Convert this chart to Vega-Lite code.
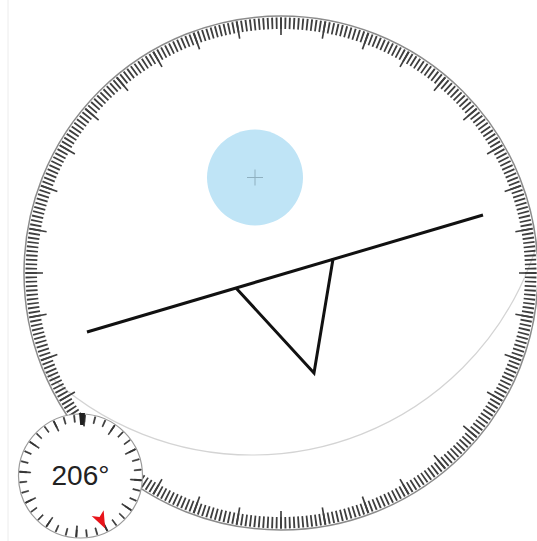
{
  "$schema": "https://vega.github.io/schema/vega-lite/v6.json",
  "width": 537,
  "height": 541,
  "autosize": "none",
  "padding": 0,
  "background": "white",
  "config": {"view": {"stroke": null}, "axis": {"disable": true}, "legend": {"disable": true}},
  "datasets": {
    "ring": [
{"deg":0,"k":30},{"deg":1,"k":1},{"deg":2,"k":1},{"deg":3,"k":1},{"deg":4,"k":1},{"deg":5,"k":1},{"deg":6,"k":1},{"deg":7,"k":1},{"deg":8,"k":1},{"deg":9,"k":1},
{"deg":10,"k":10},{"deg":11,"k":1},{"deg":12,"k":1},{"deg":13,"k":1},{"deg":14,"k":1},{"deg":15,"k":1},{"deg":16,"k":1},{"deg":17,"k":1},{"deg":18,"k":1},{"deg":19,"k":1},
{"deg":20,"k":10},{"deg":21,"k":1},{"deg":22,"k":1},{"deg":23,"k":1},{"deg":24,"k":1},{"deg":25,"k":1},{"deg":26,"k":1},{"deg":27,"k":1},{"deg":28,"k":1},{"deg":29,"k":1},
{"deg":30,"k":30},{"deg":31,"k":1},{"deg":32,"k":1},{"deg":33,"k":1},{"deg":34,"k":1},{"deg":35,"k":1},{"deg":36,"k":1},{"deg":37,"k":1},{"deg":38,"k":1},{"deg":39,"k":1},
{"deg":40,"k":10},{"deg":41,"k":1},{"deg":42,"k":1},{"deg":43,"k":1},{"deg":44,"k":1},{"deg":45,"k":1},{"deg":46,"k":1},{"deg":47,"k":1},{"deg":48,"k":1},{"deg":49,"k":1},
{"deg":50,"k":10},{"deg":51,"k":1},{"deg":52,"k":1},{"deg":53,"k":1},{"deg":54,"k":1},{"deg":55,"k":1},{"deg":56,"k":1},{"deg":57,"k":1},{"deg":58,"k":1},{"deg":59,"k":1},
{"deg":60,"k":30},{"deg":61,"k":1},{"deg":62,"k":1},{"deg":63,"k":1},{"deg":64,"k":1},{"deg":65,"k":1},{"deg":66,"k":1},{"deg":67,"k":1},{"deg":68,"k":1},{"deg":69,"k":1},
{"deg":70,"k":10},{"deg":71,"k":1},{"deg":72,"k":1},{"deg":73,"k":1},{"deg":74,"k":1},{"deg":75,"k":1},{"deg":76,"k":1},{"deg":77,"k":1},{"deg":78,"k":1},{"deg":79,"k":1},
{"deg":80,"k":10},{"deg":81,"k":1},{"deg":82,"k":1},{"deg":83,"k":1},{"deg":84,"k":1},{"deg":85,"k":1},{"deg":86,"k":1},{"deg":87,"k":1},{"deg":88,"k":1},{"deg":89,"k":1},
{"deg":90,"k":30},{"deg":91,"k":1},{"deg":92,"k":1},{"deg":93,"k":1},{"deg":94,"k":1},{"deg":95,"k":1},{"deg":96,"k":1},{"deg":97,"k":1},{"deg":98,"k":1},{"deg":99,"k":1},
{"deg":100,"k":10},{"deg":101,"k":1},{"deg":102,"k":1},{"deg":103,"k":1},{"deg":104,"k":1},{"deg":105,"k":1},{"deg":106,"k":1},{"deg":107,"k":1},{"deg":108,"k":1},{"deg":109,"k":1},
{"deg":110,"k":10},{"deg":111,"k":1},{"deg":112,"k":1},{"deg":113,"k":1},{"deg":114,"k":1},{"deg":115,"k":1},{"deg":116,"k":1},{"deg":117,"k":1},{"deg":118,"k":1},{"deg":119,"k":1},
{"deg":120,"k":30},{"deg":121,"k":1},{"deg":122,"k":1},{"deg":123,"k":1},{"deg":124,"k":1},{"deg":125,"k":1},{"deg":126,"k":1},{"deg":127,"k":1},{"deg":128,"k":1},{"deg":129,"k":1},
{"deg":130,"k":10},{"deg":131,"k":1},{"deg":132,"k":1},{"deg":133,"k":1},{"deg":134,"k":1},{"deg":135,"k":1},{"deg":136,"k":1},{"deg":137,"k":1},{"deg":138,"k":1},{"deg":139,"k":1},
{"deg":140,"k":10},{"deg":141,"k":1},{"deg":142,"k":1},{"deg":143,"k":1},{"deg":144,"k":1},{"deg":145,"k":1},{"deg":146,"k":1},{"deg":147,"k":1},{"deg":148,"k":1},{"deg":149,"k":1},
{"deg":150,"k":30},{"deg":151,"k":1},{"deg":152,"k":1},{"deg":153,"k":1},{"deg":154,"k":1},{"deg":155,"k":1},{"deg":156,"k":1},{"deg":157,"k":1},{"deg":158,"k":1},{"deg":159,"k":1},
{"deg":160,"k":10},{"deg":161,"k":1},{"deg":162,"k":1},{"deg":163,"k":1},{"deg":164,"k":1},{"deg":165,"k":1},{"deg":166,"k":1},{"deg":167,"k":1},{"deg":168,"k":1},{"deg":169,"k":1},
{"deg":170,"k":10},{"deg":171,"k":1},{"deg":172,"k":1},{"deg":173,"k":1},{"deg":174,"k":1},{"deg":175,"k":1},{"deg":176,"k":1},{"deg":177,"k":1},{"deg":178,"k":1},{"deg":179,"k":1},
{"deg":180,"k":30},{"deg":181,"k":1},{"deg":182,"k":1},{"deg":183,"k":1},{"deg":184,"k":1},{"deg":185,"k":1},{"deg":186,"k":1},{"deg":187,"k":1},{"deg":188,"k":1},{"deg":189,"k":1},
{"deg":190,"k":10},{"deg":191,"k":1},{"deg":192,"k":1},{"deg":193,"k":1},{"deg":194,"k":1},{"deg":195,"k":1},{"deg":196,"k":1},{"deg":197,"k":1},{"deg":198,"k":1},{"deg":199,"k":1},
{"deg":200,"k":10},{"deg":201,"k":1},{"deg":202,"k":1},{"deg":203,"k":1},{"deg":204,"k":1},{"deg":205,"k":1},{"deg":206,"k":1},{"deg":207,"k":1},{"deg":208,"k":1},{"deg":209,"k":1},
{"deg":210,"k":30},{"deg":211,"k":1},{"deg":212,"k":1},{"deg":213,"k":1},{"deg":214,"k":1},{"deg":215,"k":1},{"deg":216,"k":1},{"deg":217,"k":1},{"deg":218,"k":1},{"deg":219,"k":1},
{"deg":220,"k":10},{"deg":221,"k":1},{"deg":222,"k":1},{"deg":223,"k":1},{"deg":224,"k":1},{"deg":225,"k":1},{"deg":226,"k":1},{"deg":227,"k":1},{"deg":228,"k":1},{"deg":229,"k":1},
{"deg":230,"k":10},{"deg":231,"k":1},{"deg":232,"k":1},{"deg":233,"k":1},{"deg":234,"k":1},{"deg":235,"k":1},{"deg":236,"k":1},{"deg":237,"k":1},{"deg":238,"k":1},{"deg":239,"k":1},
{"deg":240,"k":30},{"deg":241,"k":1},{"deg":242,"k":1},{"deg":243,"k":1},{"deg":244,"k":1},{"deg":245,"k":1},{"deg":246,"k":1},{"deg":247,"k":1},{"deg":248,"k":1},{"deg":249,"k":1},
{"deg":250,"k":10},{"deg":251,"k":1},{"deg":252,"k":1},{"deg":253,"k":1},{"deg":254,"k":1},{"deg":255,"k":1},{"deg":256,"k":1},{"deg":257,"k":1},{"deg":258,"k":1},{"deg":259,"k":1},
{"deg":260,"k":10},{"deg":261,"k":1},{"deg":262,"k":1},{"deg":263,"k":1},{"deg":264,"k":1},{"deg":265,"k":1},{"deg":266,"k":1},{"deg":267,"k":1},{"deg":268,"k":1},{"deg":269,"k":1},
{"deg":270,"k":30},{"deg":271,"k":1},{"deg":272,"k":1},{"deg":273,"k":1},{"deg":274,"k":1},{"deg":275,"k":1},{"deg":276,"k":1},{"deg":277,"k":1},{"deg":278,"k":1},{"deg":279,"k":1},
{"deg":280,"k":10},{"deg":281,"k":1},{"deg":282,"k":1},{"deg":283,"k":1},{"deg":284,"k":1},{"deg":285,"k":1},{"deg":286,"k":1},{"deg":287,"k":1},{"deg":288,"k":1},{"deg":289,"k":1},
{"deg":290,"k":10},{"deg":291,"k":1},{"deg":292,"k":1},{"deg":293,"k":1},{"deg":294,"k":1},{"deg":295,"k":1},{"deg":296,"k":1},{"deg":297,"k":1},{"deg":298,"k":1},{"deg":299,"k":1},
{"deg":300,"k":30},{"deg":301,"k":1},{"deg":302,"k":1},{"deg":303,"k":1},{"deg":304,"k":1},{"deg":305,"k":1},{"deg":306,"k":1},{"deg":307,"k":1},{"deg":308,"k":1},{"deg":309,"k":1},
{"deg":310,"k":10},{"deg":311,"k":1},{"deg":312,"k":1},{"deg":313,"k":1},{"deg":314,"k":1},{"deg":315,"k":1},{"deg":316,"k":1},{"deg":317,"k":1},{"deg":318,"k":1},{"deg":319,"k":1},
{"deg":320,"k":10},{"deg":321,"k":1},{"deg":322,"k":1},{"deg":323,"k":1},{"deg":324,"k":1},{"deg":325,"k":1},{"deg":326,"k":1},{"deg":327,"k":1},{"deg":328,"k":1},{"deg":329,"k":1},
{"deg":330,"k":30},{"deg":331,"k":1},{"deg":332,"k":1},{"deg":333,"k":1},{"deg":334,"k":1},{"deg":335,"k":1},{"deg":336,"k":1},{"deg":337,"k":1},{"deg":338,"k":1},{"deg":339,"k":1},
{"deg":340,"k":10},{"deg":341,"k":1},{"deg":342,"k":1},{"deg":343,"k":1},{"deg":344,"k":1},{"deg":345,"k":1},{"deg":346,"k":1},{"deg":347,"k":1},{"deg":348,"k":1},{"deg":349,"k":1},
{"deg":350,"k":10},{"deg":351,"k":1},{"deg":352,"k":1},{"deg":353,"k":1},{"deg":354,"k":1},{"deg":355,"k":1},{"deg":356,"k":1},{"deg":357,"k":1},{"deg":358,"k":1},{"deg":359,"k":1}
    ],
    "level": [
      {"part": "bar", "i": 0, "x": -194, "y": -59},
      {"part": "bar", "i": 1, "x": 202, "y": 58},
      {"part": "tri", "i": 0, "x": -45, "y": -15},
      {"part": "tri", "i": 1, "x": 33, "y": -100},
      {"part": "tri", "i": 2, "x": 52, "y": 14}
    ],
    "bubble": [{"x": -26, "y": 95.5}],
    "tilt": [{"x": -29, "y": 116}],
    "origin": [{"x": 0, "y": 0}],
    "dial": [{"x": -200.5, "y": -203, "label": "206°"}],
    "heading": [{"x": -199, "y": -146}],
    "north": [{"x": -180, "y": -247}]
  },
  "resolve": {"scale": {"theta": "independent"}},
  "layer": [
    {
      "data": {"name": "tilt"},
      "mark": {"type": "point", "shape": "circle", "filled": false, "size": 355216, "stroke": "#d4d4d4", "strokeWidth": 1.2, "opacity": 1},
      "encoding": {
        "x": {"field": "x", "type": "quantitative", "scale": {"domain": [-281, 256], "nice": false, "zero": false}},
        "y": {"field": "y", "type": "quantitative", "scale": {"domain": [-268, 273], "nice": false, "zero": false}}
      }
    },
    {
      "data": {"name": "origin"},
      "mark": {"type": "arc", "theta": 0, "theta2": 6.2832, "radius": 420, "radius2": 256, "fill": "white"},
      "encoding": {
        "x": {"field": "x", "type": "quantitative"},
        "y": {"field": "y", "type": "quantitative"}
      }
    },
    {
      "data": {"name": "origin"},
      "mark": {"type": "point", "shape": "circle", "filled": false, "size": 264196, "stroke": "#8c8c8c", "strokeWidth": 1.5, "opacity": 1},
      "encoding": {
        "x": {"field": "x", "type": "quantitative"},
        "y": {"field": "y", "type": "quantitative"}
      }
    },
    {
      "data": {"name": "ring"},
      "mark": {"type": "arc", "radius": 255.5, "radius2": 244, "padAngle": 0.0072, "fill": "#3e3e3e"},
      "encoding": {
        "x": {"datum": 0, "type": "quantitative"},
        "y": {"datum": 0, "type": "quantitative"},
        "theta": {"aggregate": "count", "type": "quantitative", "stack": true, "scale": {"domain": [0, 360], "range": [-0.008727, 6.274458]}},
        "order": {"field": "deg", "type": "quantitative"},
        "detail": [{"field": "deg", "type": "quantitative"}, {"field": "k", "type": "quantitative"}]
      }
    },
    {
      "data": {"name": "ring"},
      "mark": {"type": "arc", "radius": 255.5, "radius2": 238, "padAngle": 0.0073, "fill": "#3e3e3e"},
      "encoding": {
        "x": {"datum": 0, "type": "quantitative"},
        "y": {"datum": 0, "type": "quantitative"},
        "theta": {"aggregate": "count", "type": "quantitative", "stack": true, "scale": {"domain": [0, 360], "range": [-0.008727, 6.274458]}},
        "order": {"field": "deg", "type": "quantitative"},
        "detail": [{"field": "deg", "type": "quantitative"}, {"field": "k", "type": "quantitative"}],
        "fillOpacity": {"condition": {"test": "datum.k >= 10", "value": 1}, "value": 0}
      }
    },
    {
      "data": {"name": "bubble"},
      "mark": {"type": "point", "shape": "circle", "filled": true, "size": 9216, "color": "#bfe4f6", "opacity": 1},
      "encoding": {
        "x": {"field": "x", "type": "quantitative"},
        "y": {"field": "y", "type": "quantitative"}
      }
    },
    {
      "data": {"name": "bubble"},
      "mark": {"type": "point", "shape": "M-1,0L1,0M0,-1L0,1", "filled": false, "size": 256, "stroke": "#8fb0c0", "strokeWidth": 1, "opacity": 1},
      "encoding": {
        "x": {"field": "x", "type": "quantitative"},
        "y": {"field": "y", "type": "quantitative"}
      }
    },
    {
      "data": {"name": "level"},
      "mark": {"type": "line", "color": "#111111", "strokeWidth": 3},
      "encoding": {
        "x": {"field": "x", "type": "quantitative"},
        "y": {"field": "y", "type": "quantitative"},
        "detail": {"field": "part", "type": "nominal"},
        "order": {"field": "i", "type": "quantitative"}
      }
    },
    {
      "data": {"name": "dial"},
      "mark": {"type": "point", "shape": "circle", "filled": true, "size": 15376, "fill": "white", "stroke": "#9a9a9a", "strokeWidth": 1.2, "opacity": 1},
      "encoding": {
        "x": {"field": "x", "type": "quantitative"},
        "y": {"field": "y", "type": "quantitative"}
      }
    },
    {
      "data": {"name": "ring"},
      "mark": {"type": "arc", "radius": 61, "radius2": 54, "fill": "#333333", "stroke": "#333333", "strokeWidth": 0.7},
      "encoding": {
        "x": {"datum": -200.5, "type": "quantitative"},
        "y": {"datum": -203, "type": "quantitative"},
        "theta": {"aggregate": "count", "type": "quantitative", "stack": true, "scale": {"domain": [0, 360], "range": [2.6791, 8.9623]}},
        "order": {"field": "deg", "type": "quantitative"},
        "detail": [{"field": "deg", "type": "quantitative"}, {"field": "k", "type": "quantitative"}],
        "fillOpacity": {"condition": {"test": "datum.k >= 10", "value": 1}, "value": 0},
        "strokeOpacity": {"condition": {"test": "datum.k >= 10", "value": 1}, "value": 0}
      }
    },
    {
      "data": {"name": "ring"},
      "mark": {"type": "arc", "radius": 61, "radius2": 50, "fill": "#333333", "stroke": "#333333", "strokeWidth": 0.7},
      "encoding": {
        "x": {"datum": -200.5, "type": "quantitative"},
        "y": {"datum": -203, "type": "quantitative"},
        "theta": {"aggregate": "count", "type": "quantitative", "stack": true, "scale": {"domain": [0, 360], "range": [2.6791, 8.9623]}},
        "order": {"field": "deg", "type": "quantitative"},
        "detail": [{"field": "deg", "type": "quantitative"}, {"field": "k", "type": "quantitative"}],
        "fillOpacity": {"condition": {"test": "datum.k >= 30", "value": 1}, "value": 0},
        "strokeOpacity": {"condition": {"test": "datum.k >= 30", "value": 1}, "value": 0}
      }
    },
    {
      "data": {"name": "heading"},
      "mark": {"type": "point", "shape": "M-0.5,-1L0.5,-1L0.3,1L-0.3,1Z", "filled": true, "size": 144, "color": "#222222", "opacity": 1},
      "encoding": {
        "x": {"field": "x", "type": "quantitative"},
        "y": {"field": "y", "type": "quantitative"}
      }
    },
    {
      "data": {"name": "north"},
      "mark": {"type": "point", "shape": "M0,1L-0.7,-0.8L0,-0.35L0.7,-0.8Z", "filled": true, "size": 361, "color": "#e8141a", "opacity": 1, "angle": 334},
      "encoding": {
        "x": {"field": "x", "type": "quantitative"},
        "y": {"field": "y", "type": "quantitative"}
      }
    },
    {
      "data": {"name": "dial"},
      "mark": {"type": "text", "font": "Liberation Sans", "fontSize": 28, "color": "#222222", "align": "center", "baseline": "middle", "dy": 1},
      "encoding": {
        "x": {"field": "x", "type": "quantitative"},
        "y": {"field": "y", "type": "quantitative"},
        "text": {"field": "label", "type": "nominal"}
      }
    },
    {
      "data": {"name": "origin"},
      "mark": {"type": "rule", "color": "#ececec", "strokeWidth": 1},
      "encoding": {
        "x": {"datum": -273, "type": "quantitative"}
      }
    }
  ]
}
